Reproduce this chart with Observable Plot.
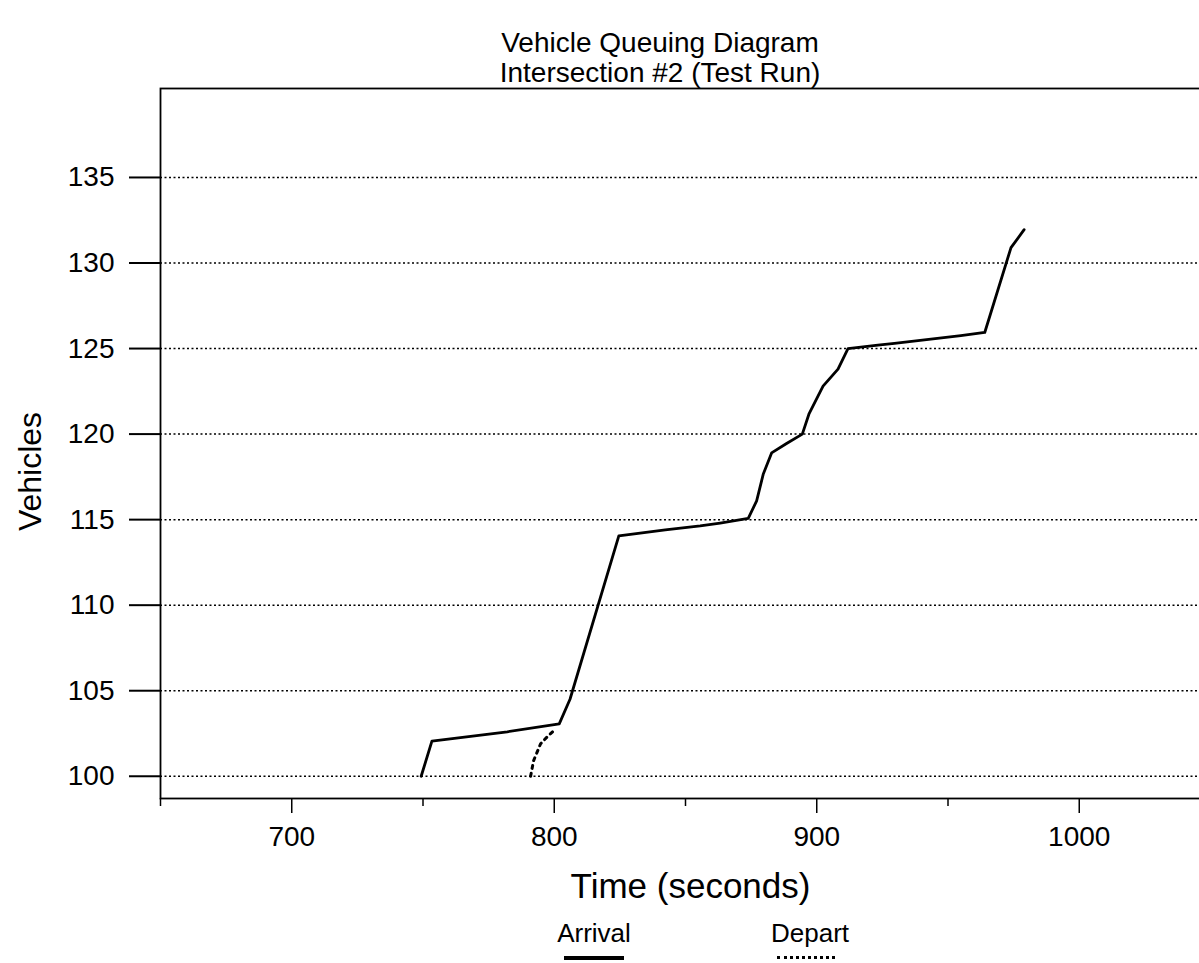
<!DOCTYPE html>
<html>
<head>
<meta charset="utf-8">
<script src="https://cdn.jsdelivr.net/npm/d3@7"></script>
<script src="https://cdn.jsdelivr.net/npm/@observablehq/plot@0.6"></script>
<style>
  html, body { margin: 0; padding: 0; background: #fff; overflow: hidden; width: 1199px; height: 963px; }
  body { font-family: "Liberation Sans", Arial, Helvetica, sans-serif; color: #000; position: relative; }
  #title { position: absolute; left: 0; top: 28px; width: 1320px; text-align: center; font-size: 28px; line-height: 30px; z-index: 2; }
  #chart { position: absolute; left: 0; top: 78px; width: 1240px; }
  #chart svg { max-width: none !important; }
  .leg { position: absolute; font-size: 26px; text-align: center; width: 120px; }
  .legline { position: absolute; height: 0; }
</style>
</head>
<body>
<div id="chart"></div>
<div id="title">Vehicle Queuing Diagram<br>Intersection #2 (Test Run)</div>
<div class="leg" style="left:534px; top:918px;">Arrival</div>
<div class="leg" style="left:750px; top:918px;">Depart</div>
<div class="legline" style="left:564px; top:956px; width:60px; border-top:4px solid #000;"></div>
<div class="legline" style="left:777px; top:956px; width:58px; border-top:3px dotted #000;"></div>
<script>
// Data
const arrivalTime = [749.3, 753.4, 782.1, 801.9, 806.0, 824.6, 842.3, 855.6, 863.2, 873.9, 877.1, 879.6, 882.8, 888.5, 894.5, 897.1, 902.4, 908.1, 911.9, 923.3, 929.6, 954.9, 964.0, 974.0, 979.0];
const arrivalVehicles = [100, 102.05, 102.6, 103.06, 104.5, 114.05, 114.4, 114.63, 114.8, 115.07, 116.1, 117.65, 118.9, 119.45, 120, 121.2, 122.8, 123.8, 125, 125.2, 125.3, 125.75, 125.94, 130.9, 131.95];
const departTime = [791.0, 792.1, 794.8, 797.3, 800.1];
const departVehicles = [100, 100.9, 101.9, 102.3, 102.7];

const yTicks = [100, 105, 110, 115, 120, 125, 130, 135];
const xMajorTicks = [700, 800, 900, 1000];
const xMinorTicks = [650, 750, 850, 950, 1050];
const xDomain = [650, 1050];
const yDomain = [98.7, 140.2];

const arrival = arrivalTime.map((t, i) => ({t, v: arrivalVehicles[i]}));
const depart = departTime.map((t, i) => ({t, v: departVehicles[i]}));

const chart = Plot.plot({
  width: 1240,
  height: 827,
  marginLeft: 160,
  marginRight: 30,
  marginTop: 10,
  marginBottom: 107,
  style: {fontFamily: '"Liberation Sans", Arial, Helvetica, sans-serif', background: "transparent", color: "#000", maxWidth: "none"},
  x: {domain: xDomain},
  y: {domain: yDomain},
  marks: [
    Plot.ruleY(yTicks, {stroke: "#000", strokeWidth: 1.5, strokeDasharray: "2,2.5"}),
    Plot.frame({stroke: "#000", strokeWidth: 1.8}),
    Plot.axisY(yTicks, {tickSize: 31, tickPadding: 15, fontSize: 28, strokeWidth: 2, label: null}),
    Plot.axisX(xMajorTicks, {tickSize: 15, tickPadding: 13, fontSize: 28, strokeWidth: 1.5, label: null, tickFormat: d => String(d)}),
    Plot.axisX(xMinorTicks, {tickSize: 8, strokeWidth: 1.5, label: null, tickFormat: () => ""}),
    Plot.line(arrival, {x: "t", y: "v", stroke: "#000", strokeWidth: 2.8, strokeLinejoin: "round"}),
    Plot.line(depart, {x: "t", y: "v", stroke: "#000", strokeWidth: 3, strokeDasharray: "3,5"}),
    Plot.text(["Vehicles"], {frameAnchor: "left", dx: -130, dy: 28, rotate: -90, fontSize: 32, textAnchor: "middle"}),
    Plot.text(["Time (seconds)"], {frameAnchor: "bottom", dy: 88, dx: 5, fontSize: 35, lineAnchor: "middle"})
  ]
});
document.getElementById("chart").appendChild(chart);
</script>
</body>
</html>
